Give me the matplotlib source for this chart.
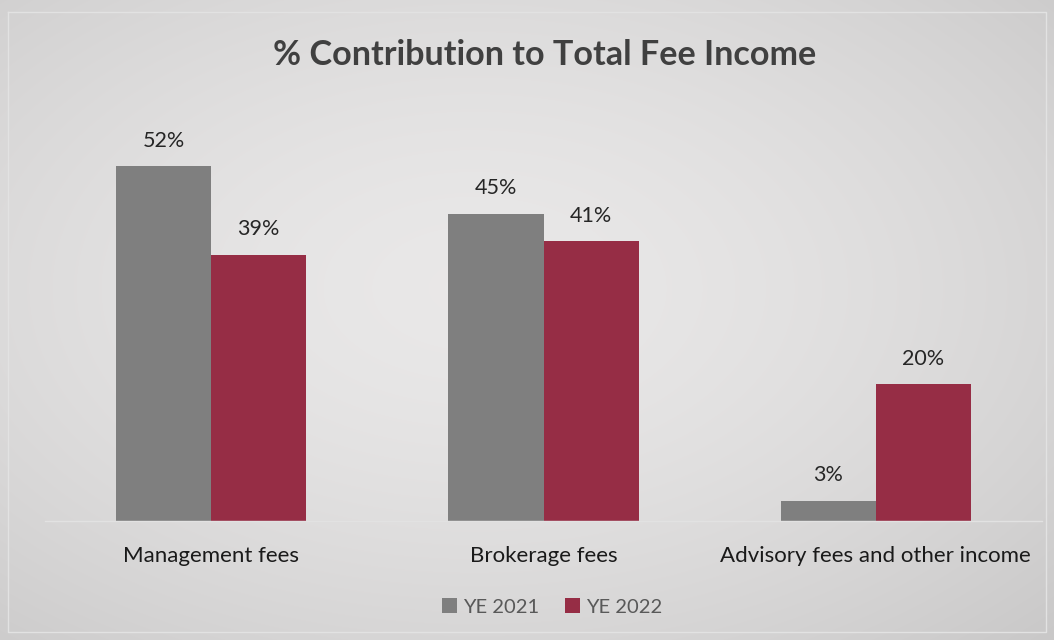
import numpy as np
import matplotlib
matplotlib.use("Agg")
import matplotlib.pyplot as plt

categories = ["Management fees", "Brokerage fees", "Advisory fees and other income"]
series_names = ["YE 2021", "YE 2022"]
ye2021 = [52, 45, 3]
ye2022 = [39, 41, 20]
colors = ["#7f7f7f", "#962d45"]

plt.rcParams['font.family'] = ['Lato', 'DejaVu Sans']

W, H = 1054, 640
fig = plt.figure(figsize=(W/100, H/100), dpi=100)

# background radial gradient
bg = fig.add_axes([0, 0, 1, 1], zorder=-10)
yy, xx = np.mgrid[0:H, 0:W]
cx, cy = W*0.45, H*0.45
r = np.sqrt(((xx-cx)/(W*0.75))**2 + ((yy-cy)/(H*0.75))**2)
v = 0.915 - 0.12*np.clip(r, 0, 1.2)**1.6
img = np.dstack([v, v*0.995, v*0.995])
bg.imshow(np.clip(img, 0, 1), aspect='auto', extent=[0, W, H, 0])
bg.plot([8, 1046, 1046, 8, 8], [12, 12, 632, 632, 12], color="#e2e2e2", lw=1.0)
bg.set_xlim(0, W); bg.set_ylim(H, 0)
bg.axis('off')

ax_l, ax_r = 45/W, 1042/W
ax_b, ax_t = 1 - 521/H, 1 - 100/H
ax = fig.add_axes([ax_l, ax_b, ax_r-ax_l, ax_t-ax_b])
ax.patch.set_alpha(0)

x = np.arange(len(categories))
w = 0.286
b1 = ax.bar(x - w/2, ye2021, w, color=colors[0], label=series_names[0])
b2 = ax.bar(x + w/2, ye2022, w, color=colors[1], label=series_names[1])
for bars, vals in ((b1, ye2021), (b2, ye2022)):
    for rect, val in zip(bars, vals):
        ax.annotate(f"{val}%", (rect.get_x()+rect.get_width()/2, rect.get_height()),
                    xytext=(0, 11), textcoords="offset points", ha="center", va="bottom",
                    fontsize=15.5, color="#262626")

ax.set_xlim(-0.5, 2.5)
ax.set_ylim(0, 421/6.83)
ax.set_yticks([])
ax.set_xticks(x)
ax.set_xticklabels(categories, fontsize=16, color="#1a1a1a")
ax.tick_params(axis='x', length=0, pad=18)
for s in ["top", "right", "left"]:
    ax.spines[s].set_visible(False)
ax.spines["bottom"].set_color("#e2e2e2")
ax.spines["bottom"].set_linewidth(1)

fig.text(0.517, 1 - 55/H, "% Contribution to Total Fee Income", ha="center", va="center",
         fontsize=24.6, fontweight="bold", color="#404040")

leg = fig.legend(handles=[b1, b2], labels=series_names, loc="center", bbox_to_anchor=(552/W, 1 - 607/H),
                 ncol=2, frameon=False, fontsize=14.5, handlelength=0.75, handleheight=0.75,
                 handletextpad=0.3, columnspacing=1.3, labelcolor="#595959")

fig.savefig("out.png", dpi=100)
